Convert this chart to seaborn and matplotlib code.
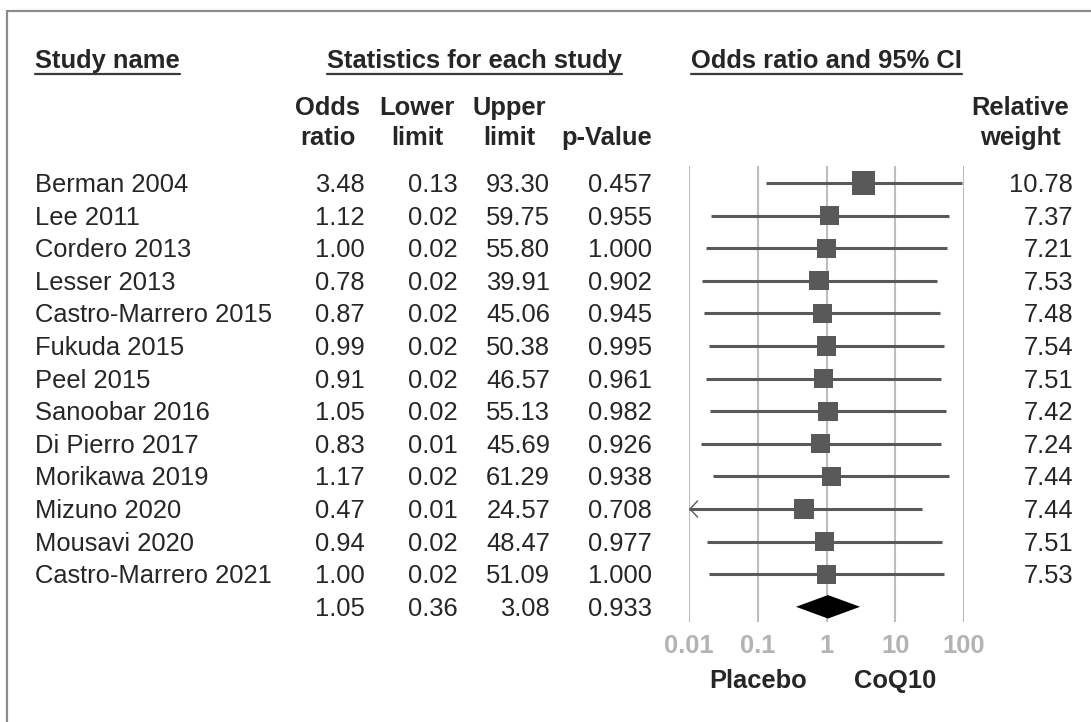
import numpy as np
import pandas as pd
import seaborn as sns
import matplotlib.pyplot as plt
import matplotlib.transforms as mtransforms
from matplotlib.lines import Line2D
from matplotlib.ticker import NullLocator

# ---- data ----
studies = ["Berman 2004", "Lee 2011", "Cordero 2013", "Lesser 2013",
           "Castro-Marrero 2015", "Fukuda 2015", "Peel 2015", "Sanoobar 2016",
           "Di Pierro 2017", "Morikawa 2019", "Mizuno 2020", "Mousavi 2020",
           "Castro-Marrero 2021"]
odds_ratio = [3.48, 1.12, 1.00, 0.78, 0.87, 0.99, 0.91, 1.05, 0.83, 1.17, 0.47, 0.94, 1.00]
# lower limits estimated a bit finer than the 2-decimal table shows (whisker ends)
lower_limit = [0.130, 0.021, 0.0179, 0.0152, 0.0168, 0.0195, 0.0178, 0.0200,
               0.0148, 0.0223, 0.0090, 0.0182, 0.0196]
upper_limit = [93.30, 59.75, 55.80, 39.91, 45.06, 50.38, 46.57, 55.13, 45.69, 61.29, 24.57, 48.47, 51.09]
p_value = [0.457, 0.955, 1.000, 0.902, 0.945, 0.995, 0.961, 0.982, 0.926, 0.938, 0.708, 0.977, 1.000]
rel_weight = [10.78, 7.37, 7.21, 7.53, 7.48, 7.54, 7.51, 7.42, 7.24, 7.44, 7.44, 7.51, 7.53]

pooled_or = 1.05
pooled_lower = 0.36
pooled_upper = 3.08
pooled_p = 0.933

tick_values = [0.01, 0.1, 1, 10, 100]
tick_labels = ["0.01", "0.1", "1", "10", "100"]
side_labels = ["Placebo", "CoQ10"]
side_pos = [0.1, 10]

# ---- style ----
sns.set_style("white")
plt.rcParams["font.family"] = ["Liberation Sans", "DejaVu Sans"]
FS = 18.4
MARK = "#595959"
GRID = "#bdbdbd"

W, H = 1091, 722
def fx(px):
    return px / W
def fy(py):
    return 1 - py / H

ROW0, ROWH = 183, 32.6  # pixel centre of first row, row pitch

fig = plt.figure(figsize=(W / 100, H / 100), dpi=100)
ax = fig.add_axes([fx(689), fy(622), fx(964) - fx(689), (622 - 166) / H])

df = pd.DataFrame({
    "study": studies,
    "odds_ratio": odds_ratio,
    "lower": lower_limit,
    "upper": upper_limit,
    "p": p_value,
    "weight": rel_weight,
})
df["row"] = np.arange(len(df))
n = len(df)

# CI whiskers, clipped at the axis with an arrow
xmin_clip = tick_values[0]
ax.hlines(df["row"], np.maximum(df["lower"], xmin_clip), df["upper"],
          color=MARK, lw=2.2, zorder=2)
for r, lo in zip(df["row"], df["lower"]):
    if lo < xmin_clip:
        ax.annotate("", xy=(xmin_clip, r), xytext=(xmin_clip * 1.6, r),
                    arrowprops=dict(arrowstyle="->,head_length=0.55,head_width=0.58",
                                    color=MARK, lw=1.0, shrinkA=0, shrinkB=0),
                    zorder=3, annotation_clip=False)

# weighted squares (area ~ weight)
max_side_pt = 16.6
sns.scatterplot(data=df, x="odds_ratio", y="row", size="weight",
                sizes=(0, max_side_pt ** 2), size_norm=(0, df["weight"].max()),
                marker="s", color=MARK, linewidth=0, legend=False, ax=ax, zorder=4)

# pooled diamond
half_h = 0.36
ax.fill([pooled_lower, pooled_or, pooled_upper, pooled_or],
        [n, n - half_h, n, n + half_h], color="black", lw=0, zorder=4)

ax.set_xscale("log")
ax.set_xlim(tick_values[0], tick_values[-1])
ax.set_ylim((622 - ROW0) / ROWH, (166 - ROW0) / ROWH)
ax.set_xticks(tick_values)
ax.set_xticklabels(tick_labels)
ax.xaxis.set_minor_locator(NullLocator())
ax.set_yticks([])
ax.set_xlabel("")
ax.set_ylabel("")
ax.tick_params(axis="x", length=0, pad=8.6, labelsize=FS, labelcolor="#b3b3b3")
for lab in ax.get_xticklabels():
    lab.set_fontweight("bold")
ax.grid(axis="x", color=GRID, lw=1.5)
ax.grid(axis="y", visible=False)
for s in ax.spines.values():
    s.set_visible(False)

# ---- table text ----
trans = mtransforms.blended_transform_factory(fig.transFigure, ax.transData)
tbase = mtransforms.offset_copy(trans, fig=fig, x=0, y=-9, units="dots")

for r, row in df.iterrows():
    y = row["row"]
    fig.text(fx(35), y, row["study"], transform=tbase, fontsize=FS, va="baseline", ha="left")
    fig.text(fx(365), y, f"{row['odds_ratio']:.2f}", transform=tbase, fontsize=FS, va="baseline", ha="right")
    fig.text(fx(458), y, f"{row['lower']:.2f}", transform=tbase, fontsize=FS, va="baseline", ha="right")
    fig.text(fx(550), y, f"{row['upper']:.2f}", transform=tbase, fontsize=FS, va="baseline", ha="right")
    fig.text(fx(652), y, f"{row['p']:.3f}", transform=tbase, fontsize=FS, va="baseline", ha="right")
    fig.text(fx(1073), y, f"{row['weight']:.2f}", transform=tbase, fontsize=FS, va="baseline", ha="right")

for xpx, val, fmt in [(365, pooled_or, ".2f"), (458, pooled_lower, ".2f"),
                      (550, pooled_upper, ".2f"), (652, pooled_p, ".3f")]:
    fig.text(fx(xpx), n, format(val, fmt), transform=tbase, fontsize=FS, va="baseline", ha="right")

# ---- headers ----
hdr = dict(fontsize=FS, fontweight="bold", va="baseline")
t1 = fig.text(fx(35), fy(68), "Study name", ha="left", **hdr)
t2 = fig.text(fx(474.5), fy(68), "Statistics for each study", ha="center", **hdr)
t3 = fig.text(fx(826.5), fy(68), "Odds ratio and 95% CI", ha="center", **hdr)

col_heads = [(328, "Odds", "ratio"), (417, "Lower", "limit"), (509, "Upper", "limit"),
             (607, "", "p-Value"), (1020, "Relative", "weight")]
for xpx, a, b in col_heads:
    if a:
        fig.text(fx(xpx), fy(115), a, ha="center", **hdr)
    fig.text(fx(xpx), fy(145), b, ha="center", **hdr)

side_trans = mtransforms.blended_transform_factory(ax.transData, fig.transFigure)
for lab, pos in zip(side_labels, side_pos):
    fig.text(pos, fy(688), lab, transform=side_trans, ha="center", **hdr)

# underlines under the three group headers
fig.canvas.draw()
renderer = fig.canvas.get_renderer()
for t in (t1, t2, t3):
    bb = t.get_window_extent(renderer)
    fig.add_artist(Line2D([bb.x0 / W, bb.x1 / W], [fy(74), fy(74)],
                          transform=fig.transFigure, color="#3a3a3a", lw=1.6))

# frame (top and left edges visible in the crop)
fig.add_artist(Line2D([fx(7), 1], [fy(11), fy(11)], transform=fig.transFigure,
                      color="#8c8c8c", lw=1.6))
fig.add_artist(Line2D([fx(7), fx(7)], [fy(11), 0], transform=fig.transFigure,
                      color="#8c8c8c", lw=1.6))

fig.savefig("out.png", dpi=100, facecolor="white")
